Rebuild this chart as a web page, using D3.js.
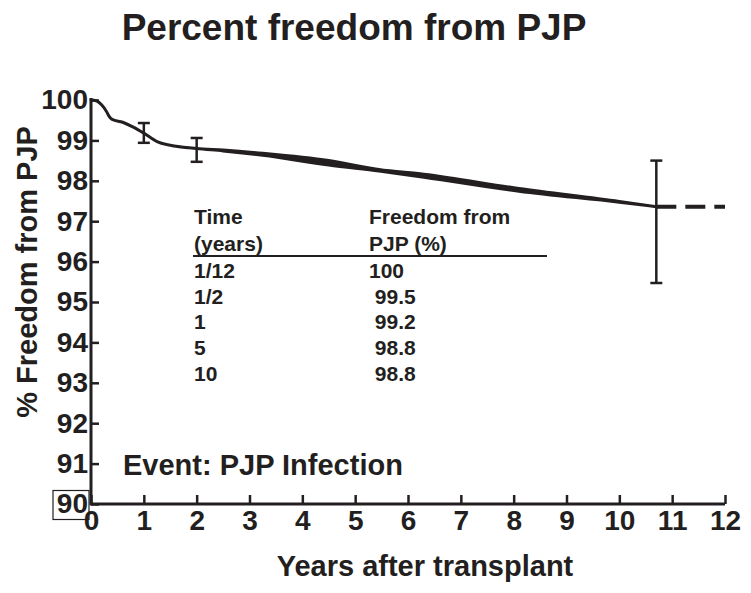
<!DOCTYPE html>
<html>
<head>
<meta charset="utf-8">
<script src="https://cdnjs.cloudflare.com/ajax/libs/d3/7.8.5/d3.min.js"></script>
<style>
  body { margin: 0; background: #fff; }
  text { font-family: "Liberation Sans", Arial, sans-serif; font-weight: bold; fill: #231f20; }
</style>
</head>
<body>
<div id="chart"></div>
<script>
// Kaplan-Meier style curve (band between upper/lower edge)
const curveYears = [0, 0.1, 0.2, 0.3, 0.34, 0.4, 0.6, 0.8, 1.0, 1.25, 1.5, 2.0, 2.5, 3.25, 4.5, 5.45, 6.3, 8.1, 10.0, 10.7];
const curveUpper = [100, 99.98, 99.88, 99.7, 99.6, 99.52, 99.45, 99.33, 99.18, 98.97, 98.88, 98.8, 98.76, 98.68, 98.5, 98.28, 98.16, 97.81, 97.49, 97.36];
const curveLower = [100, 99.98, 99.88, 99.7, 99.6, 99.52, 99.45, 99.33, 99.18, 98.97, 98.88, 98.8, 98.74, 98.63, 98.39, 98.24, 98.09, 97.74, 97.47, 97.36];

// error bars
const errYears = [1, 2, 10.7];
const errLow = [98.94, 98.47, 95.47];
const errHigh = [99.43, 99.06, 98.5];

// dashed extension
const dashYears = [10.7, 12];
const dashValue = 97.36;

const xTicks = [0, 1, 2, 3, 4, 5, 6, 7, 8, 9, 10, 11, 12];
const yTicks = [90, 91, 92, 93, 94, 95, 96, 97, 98, 99, 100];

const tableHead = [["Time", "Freedom from"], ["(years)", "PJP (%)"]];
const tableTimes = ["1/12", "1/2", "1", "5", "10"];
const tableValues = ["100", " 99.5", " 99.2", " 98.8", " 98.8"];

const ink = "#231f20";
const width = 751, height = 593;
const margin = { left: 91, right: 25, top: 100, bottom: 89 };

const svg = d3.select("#chart").append("svg")
    .attr("width", width)
    .attr("height", height);

const x = d3.scaleLinear().domain([0, 12]).range([margin.left, width - margin.right - 1]);
const y = d3.scaleLinear().domain([90, 100]).range([height - margin.bottom, margin.top]);

// title
svg.append("text")
    .attr("x", 354).attr("y", 40)
    .attr("text-anchor", "middle")
    .style("font-size", "37px")
    .text("Percent freedom from PJP");

// axes
const yAxis = svg.append("g")
    .attr("transform", `translate(${x(0)},0)`)
    .call(d3.axisLeft(y).tickValues(yTicks).tickSize(-8).tickPadding(3).tickFormat(d3.format("d")));
const xAxis = svg.append("g")
    .attr("transform", `translate(0,${y(90)})`)
    .call(d3.axisBottom(x).tickValues(xTicks).tickSize(-9).tickPadding(6).tickFormat(d3.format("d")));

[yAxis, xAxis].forEach(a => {
    a.select(".domain").attr("stroke", ink).attr("stroke-width", 3);
    a.selectAll(".tick line").attr("stroke", ink).attr("stroke-width", 2.5);
    a.selectAll(".tick text").style("font-size", "28px").attr("fill", ink);
});
yAxis.select(".domain").attr("d", `M0,${y(100) - 2}V${y(90) + 1}`);
xAxis.select(".domain").attr("d", `M${x(0) - 1},0H${x(12)}`);

// box around "90"
yAxis.selectAll(".tick").filter(d => d === 90)
    .append("rect")
    .attr("x", -38).attr("y", -14)
    .attr("width", 36).attr("height", 29)
    .attr("fill", "none").attr("stroke", ink).attr("stroke-width", 1.2);

// axis titles
svg.append("text")
    .attr("transform", `translate(37,272) rotate(-90)`)
    .attr("text-anchor", "middle")
    .style("font-size", "29px")
    .text("% Freedom from PJP");
svg.append("text")
    .attr("x", 425).attr("y", 576)
    .attr("text-anchor", "middle")
    .style("font-size", "29px")
    .text("Years after transplant");

// curve band
const curveData = curveYears.map((t, i) => ({ t, hi: curveUpper[i], lo: curveLower[i] }));
svg.append("path")
    .datum(curveData)
    .attr("d", d3.area().x(d => x(d.t)).y0(d => y(d.lo)).y1(d => y(d.hi)).curve(d3.curveMonotoneX))
    .attr("fill", ink)
    .attr("stroke", ink)
    .attr("stroke-width", 3)
    .attr("stroke-linejoin", "round");

// dashed extension
svg.append("line")
    .attr("x1", x(dashYears[0])).attr("x2", x(dashYears[1]))
    .attr("y1", y(dashValue)).attr("y2", y(dashValue))
    .attr("stroke", ink).attr("stroke-width", 4)
    .attr("stroke-dasharray", "20,9");

// error bars
errYears.forEach((t, i) => {
    const g = svg.append("g").attr("stroke", ink).attr("stroke-width", 2.5);
    g.append("line").attr("x1", x(t)).attr("x2", x(t)).attr("y1", y(errLow[i])).attr("y2", y(errHigh[i]));
    [errLow[i], errHigh[i]].forEach(v => {
        g.append("line").attr("x1", x(t) - 6).attr("x2", x(t) + 6).attr("y1", y(v)).attr("y2", y(v));
    });
});

// inset table
const col1 = 194, col2 = 369;
const table = svg.append("g").style("font-size", "21px");
tableHead.forEach((row, i) => {
    table.append("text").attr("x", col1).attr("y", 224 + i * 27).text(row[0]);
    table.append("text").attr("x", col2).attr("y", 224 + i * 27).text(row[1]);
});
table.append("line")
    .attr("x1", 193).attr("x2", 547)
    .attr("y1", 256).attr("y2", 256)
    .attr("stroke", ink).attr("stroke-width", 2);
tableTimes.forEach((t, i) => {
    const yy = 278 + i * 25.7;
    table.append("text").attr("x", col1).attr("y", yy).text(t);
    table.append("text").attr("x", col2).attr("y", yy).attr("xml:space", "preserve").style("white-space", "pre").text(tableValues[i]);
});

// event note
svg.append("text")
    .attr("x", 123).attr("y", 475)
    .style("font-size", "29px")
    .text("Event: PJP Infection");
</script>
</body>
</html>
